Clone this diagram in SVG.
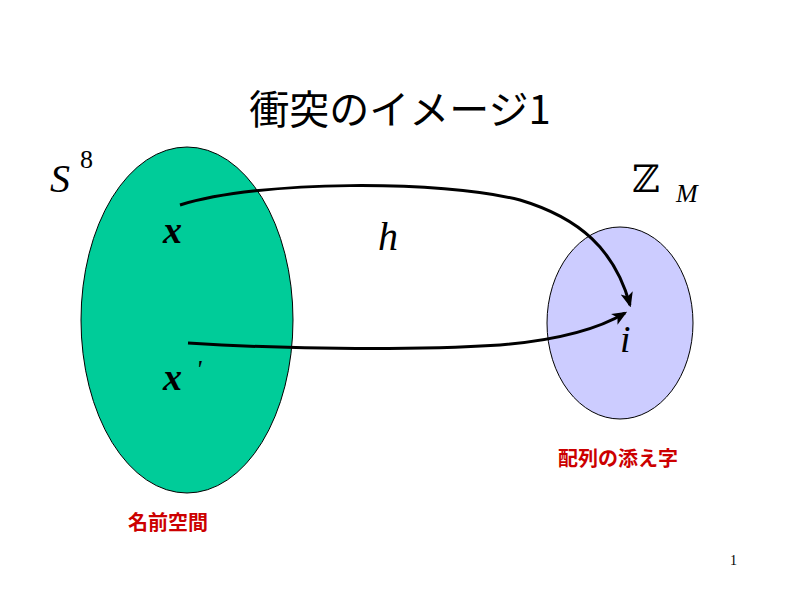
<svg xmlns="http://www.w3.org/2000/svg" width="800" height="600" viewBox="0 0 800 600">
<style>
.m{font-family:"Liberation Serif","DejaVu Serif",serif;font-style:italic}
.r{font-family:"Noto Sans CJK JP",sans-serif;font-weight:bold;fill:#cc0000;font-size:20px}
.c{fill:none;stroke:#000;stroke-width:3}
</style>
<defs><marker id="a" viewBox="0 0 12 10" refX="10" refY="5" markerWidth="5" markerHeight="5" orient="auto" markerUnits="strokeWidth"><path d="M0,0 L12,5 L0,10 L3,5 z"/></marker></defs>
<rect width="800" height="600" fill="#fff"/>
<text x="400" y="124" text-anchor="middle" font-family="Noto Sans CJK JP,sans-serif" font-size="40">衝突のイメージ1</text>
<g id="n1"><ellipse cx="187" cy="320" rx="106" ry="173" fill="#00cc99" stroke="#000"/>
<text class="m" x="163" y="243" font-size="38" font-weight="bold">x</text>
<text class="m" x="163" y="390" font-size="38" font-weight="bold">x</text><text class="m" x="196" y="378" font-size="26">'</text>
<text class="r" x="168" y="530" text-anchor="middle">名前空間</text></g>
<g id="n2"><ellipse cx="620" cy="323" rx="73" ry="96" fill="#ccccff" stroke="#000"/>
<text class="m" x="620" y="352" font-size="38">i</text>
<text class="r" x="618" y="466" text-anchor="middle">配列の添え字</text></g>
<text class="m" x="50" y="192" font-size="40">S</text><text x="80" y="168" font-family="Liberation Serif,serif" font-size="26">8</text>
<text x="632" y="192" font-family="DejaVu Serif,serif" font-size="38">ℤ</text><text class="m" x="676" y="202" font-size="26">M</text>
<text class="m" x="378" y="250" font-size="40">h</text>
<text x="730" y="565" font-family="Liberation Serif,serif" font-size="14">1</text>
<g id="connectors">
<path class="c" d="M180,205 C260,180 440,180 520,200 C580,218 615,250 630,305" marker-end="url(#a)"/>
<path class="c" d="M188,343 C300,350 420,350 500,345 C560,340 600,328 625,313" marker-end="url(#a)"/>
</g>
</svg>
